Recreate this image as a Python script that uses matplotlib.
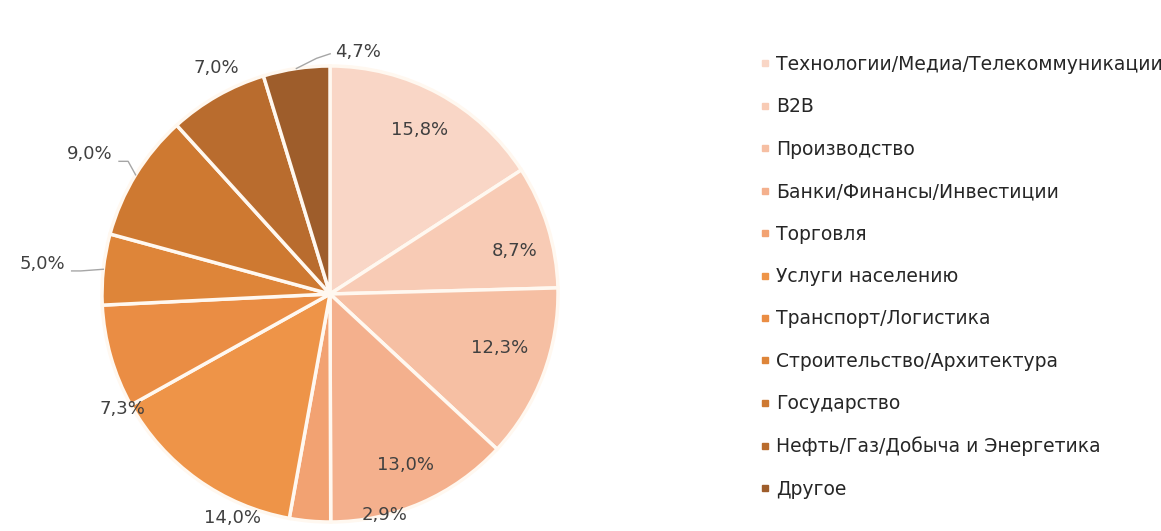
import numpy as np
import matplotlib.pyplot as plt
from matplotlib.lines import Line2D

sectors = ["Технологии/Медиа/Телекоммуникации", "B2B", "Производство",
           "Банки/Финансы/Инвестиции", "Торговля", "Услуги населению",
           "Транспорт/Логистика", "Строительство/Архитектура", "Государство",
           "Нефть/Газ/Добыча и Энергетика", "Другое"]
shares = [15.8, 8.7, 12.3, 13.0, 2.9, 14.0, 7.3, 5.0, 9.0, 7.0, 4.7]

colors = ["#F9D6C6", "#F8CBB5", "#F6BFA3", "#F4B08D", "#F2A272", "#EE9448",
          "#EA8D44", "#DE8539", "#CE7931", "#B96C2E", "#9E5D2B"]
# label radius (in pie radii), angular nudge in degrees, leader side
label_r = [0.82, 0.83, 0.78, 0.82, 1.00, 1.07, 1.04, 1.27, 1.22, 1.11, 1.07]
label_shift = [0, -4, 3, 0, 19, 12, 13, 0.3, 1.4, -3, -15]
leader = [None] * 7 + ["left", "left", None, "right"]

W, H = 1161, 531
fig = plt.figure(figsize=(W / 100, H / 100), dpi=100)
R = 228.0
cx, cy = 330.0, H - 294.0
ax = fig.add_axes([0, 0, 660 / W, 1])

wedges, _ = ax.pie(shares, colors=colors, startangle=90, counterclock=False,
                   radius=1.0, wedgeprops=dict(edgecolor="#FFF8F0", linewidth=2.5))
ax.set_aspect("auto")
ax.set_xlim(-cx / R, cx / R)
ax.set_ylim(-cy / R, (H - cy) / R)
ax.axis("off")

renderer = fig.canvas.get_renderer()
inv = ax.transData.inverted()
for w, v, r, s, ld in zip(wedges, shares, label_r, label_shift, leader):
    mid = np.deg2rad((w.theta1 + w.theta2) / 2)
    ang = mid + np.deg2rad(s)
    tx, ty = r * np.cos(ang), r * np.sin(ang)
    t = ax.text(tx, ty, f"{v:.1f}%".replace(".", ","), ha="center", va="center",
                fontsize=13, color="#404040")
    if ld is None:
        continue
    (x0, y0), (x1, y1) = inv.transform(t.get_window_extent(renderer).get_points())
    ex, ey = np.cos(mid), np.sin(mid)
    if ld == "left":
        px, py = x1 + 0.03, ty - 0.03
        ax.plot([px, px + 0.04, ex], [py, py, ey], color="#A6A6A6", lw=1.0)
    else:
        px, py = x0 - 0.02, y0 + 0.03
        ax.plot([px, px - 0.06, ex], [py, py - 0.02, ey], color="#A6A6A6", lw=1.0)

handles = [Line2D([], [], marker="s", linestyle="none", markersize=5,
                  markerfacecolor=c, markeredgecolor=c) for c in colors]
fig.legend(handles, sectors, loc="upper left", bbox_to_anchor=(742 / W, 1 - 38 / H),
           frameon=False, fontsize=13.5, labelspacing=1.25, handlelength=0.6,
           handletextpad=0.3, labelcolor="#262626")

fig.savefig("out.png", dpi=100, facecolor="white")
